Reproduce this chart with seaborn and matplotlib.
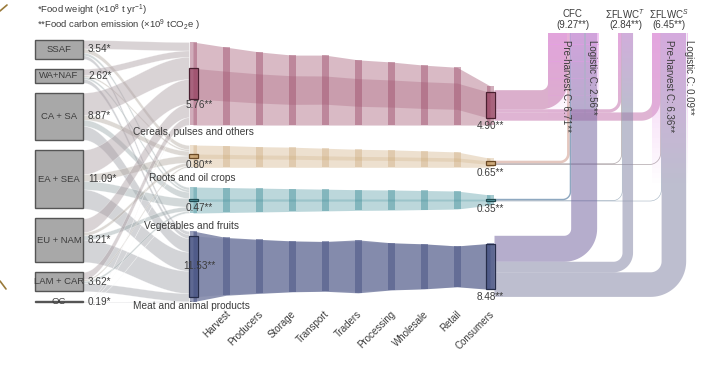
import numpy as np
import matplotlib
matplotlib.use("Agg")
import matplotlib.pyplot as plt
import matplotlib.colors as mcolors
from matplotlib.patches import Rectangle, Polygon
import seaborn as sns

# ---------------- data ----------------
regions = ["SSAF", "WA+NAF", "CA + SA", "EA + SEA", "EU + NAM", "LAM + CAR", "OC"]
region_weight = [3.54, 2.62, 8.87, 11.09, 8.21, 3.62, 0.19]

categories = ["Cereals, pulses and others", "Roots and oil crops",
              "Vegetables and fruits", "Meat and animal products"]

# food weight sent from each region to each category (cereal, roots, veg, meat) - estimated
flow_ssaf = [1.60, 0.80, 0.50, 0.64]
flow_wanaf = [1.20, 0.30, 0.40, 0.72]
flow_casa = [4.20, 0.90, 1.20, 2.57]
flow_easea = [4.60, 1.30, 1.60, 3.59]
flow_eunam = [2.60, 0.60, 0.80, 4.21]
flow_lamcar = [1.40, 0.30, 0.40, 1.52]
flow_oc = [0.07, 0.01, 0.02, 0.09]

stages = ["Harvest", "Producers", "Storage", "Transport", "Traders",
          "Processing", "Wholesale", "Retail", "Consumers"]

# food weight along the chain (category node + 9 stages) - estimated
weight_cereal = [15.67, 14.7, 13.8, 13.2, 13.2, 12.3, 11.9, 11.3, 10.9, 7.4]
weight_roots = [4.21, 4.1, 3.9, 3.8, 3.6, 3.4, 3.3, 3.1, 2.9, 1.7]
weight_veg = [4.92, 4.7, 4.5, 4.3, 4.1, 3.9, 3.8, 3.6, 3.4, 1.9]
weight_meat = [13.34, 10.9, 10.2, 9.6, 9.4, 10.0, 8.9, 8.5, 7.7, 8.7]

# food carbon along the chain - end points read from labels, middle estimated
carbon_cereal = [5.76, 5.62, 5.50, 5.40, 5.32, 5.22, 5.12, 5.04, 4.96, 4.90]
carbon_roots = [0.80, 0.78, 0.76, 0.75, 0.73, 0.71, 0.69, 0.68, 0.66, 0.65]
carbon_veg = [0.47, 0.46, 0.44, 0.43, 0.42, 0.40, 0.39, 0.38, 0.36, 0.35]
carbon_meat = [11.53, 10.5, 10.0, 9.5, 9.3, 9.4, 8.8, 8.4, 7.7, 8.48]

targets = ["CFC", "\u03a3FLWC$^{T}$", "\u03a3FLWC$^{S}$"]
target_carbon = [9.27, 2.84, 6.45]
# carbon of each category ending in CFC, FLWC-T, FLWC-S - estimated
to_target_cereal = [3.60, 0.60, 1.56]
to_target_roots = [0.50, 0.15, 0.15]
to_target_veg = [0.27, 0.10, 0.10]
to_target_meat = [4.90, 1.99, 4.64]
sub_labels = ["Pre-harvest C: 6.71**", "Logistic C: 2.56**",
              "Pre-harvest C: 6.36**", "Logistic C: 0.09**"]
sub_values = [6.71, 2.56, 6.36, 0.09]

# ---------------- style / layout ----------------
sns.set_theme(style="white")
plt.rcParams["font.family"] = ["Liberation Sans", "DejaVu Sans"]
plt.rcParams["mathtext.fontset"] = "custom"
plt.rcParams["mathtext.rm"] = "Liberation Sans"
plt.rcParams["mathtext.it"] = "Liberation Sans:italic"
plt.rcParams["mathtext.bf"] = "Liberation Sans:bold"
TXT = "#3c3c3c"
S = 5.3                       # px per unit
cat_colors = ["#9b4a68", "#c49a62", "#3f8e99", "#4a5585"]
band_alpha = [0.38, 0.30, 0.35, 0.62]
inner_alpha = [0.25, 0.20, 0.25, 0.15]
bar_alpha = [0.45, 0.30, 0.45, 0.55]
node_edge = ["#4a1f30", "#6b4a25", "#1f4a50", "#262d4a"]
pink = "#e89be9"

flows = [flow_ssaf, flow_wanaf, flow_casa, flow_easea, flow_eunam, flow_lamcar, flow_oc]
weights = [weight_cereal, weight_roots, weight_veg, weight_meat]
carbons = [carbon_cereal, carbon_roots, carbon_veg, carbon_meat]
to_targets = [to_target_cereal, to_target_roots, to_target_veg, to_target_meat]

box_x0, box_x1 = 35, 83
box_top0, box_gap = 40, 10
cat_top0 = [42, 145, 187, 231]
cat_align = [1.0, 1.0, 0.5, 0.5]
stage_x = np.linspace(193, 490, 10)
flow_x1 = 189
col_left = [548, 618, 652]
y_col_top = 33
cat_label_x = [133, 149, 144, 133]
cat_label_y = [132, 178, 226, 306]


def blend(c1, c2, f):
    a = np.array(mcolors.to_rgb(c1))
    b = np.array(mcolors.to_rgb(c2))
    return tuple(a * (1 - f) + b * f)


def turn_ribbon(ax, x0, yt, w, xl, ytop, r, color, alpha, z=2):
    th = np.linspace(0, np.pi / 2, 24)
    cx, cy = xl - r, yt - r
    inner = np.column_stack([cx + r * np.sin(th), cy + r * np.cos(th)])
    R = r + w
    outer = np.column_stack([cx + R * np.sin(th[::-1]), cy + R * np.cos(th[::-1])])
    pts = [(x0, yt)] + [tuple(p) for p in inner] + [(xl, ytop), (xl + w, ytop)] + \
          [tuple(p) for p in outer] + [(x0, yt + w)]
    ax.add_patch(Polygon(pts, closed=True, facecolor=color, alpha=alpha, lw=0, zorder=z))


fig = plt.figure(figsize=(7.01, 3.69), dpi=100)
ax = fig.add_axes([0, 0, 1, 1])
ax.set_xlim(0, 701)
ax.set_ylim(369, 0)
ax.axis("off")

# small cropped marks at the left edge of the original figure
ax.plot([0, 7], [11, 5], color="#9a7a3a", lw=1.2, solid_capstyle="round")
ax.plot([0, 6], [281, 289], color="#9a7a3a", lw=1.2, solid_capstyle="round")

# header
ax.text(37, 10.5, "*Food weight (\u00d710$^{8}$ t yr$^{-1}$)", fontsize=6.8, color=TXT, va="center")
ax.text(37, 25.5, "**Food carbon emission (\u00d710$^{9}$ tCO$_{2}$e )", fontsize=6.8, color=TXT, va="center")

# region boxes
box_tops = []
y = box_top0
for name, v in zip(regions, region_weight):
    h = v * S
    box_tops.append(y)
    ax.add_patch(Rectangle((box_x0, y), box_x1 - box_x0, max(h, 0.6), facecolor="#a8a8a8",
                           edgecolor="#555555", lw=1.0, zorder=5))
    yc = y + h / 2
    ax.text((box_x0 + box_x1) / 2, yc, name, fontsize=6.8, color=TXT, ha="center", va="center", zorder=6)
    ax.text(box_x1 + 5, yc, f"{v:.2f}*", fontsize=7.2, color=TXT, ha="left", va="center", zorder=6)
    y += h + box_gap

# category geometry along the chain
geo = []
for k in range(4):
    w = np.array(weights[k]) * S
    c = np.array(carbons[k]) * S
    fixed = cat_top0[k] + cat_align[k] * w[0]
    top = fixed - cat_align[k] * w
    bot = top + w
    mid = (top + bot) / 2
    geo.append((top, bot, mid, c))

# left flows region -> category
cat_cursor = [cat_top0[k] for k in range(4)]
for i, fl in enumerate(flows):
    ry = box_tops[i]
    for k in range(4):
        h = fl[k] * S
        y0a, y0b = ry, ry + h
        y1a, y1b = cat_cursor[k], cat_cursor[k] + h
        xs = np.linspace(box_x1, flow_x1, 60)
        t = (xs - box_x1) / (flow_x1 - box_x1)
        s = 3 * t ** 2 - 2 * t ** 3
        col = blend("#b0b0b0", cat_colors[k], 0.18)
        ax.fill_between(xs, y0a + (y1a - y0a) * s, y0b + (y1b - y0b) * s,
                        color=col, alpha=0.45, lw=0.35, edgecolor="white", zorder=1)
        ry += h
        cat_cursor[k] += h

# category bands through the stages
for k in range(4):
    top, bot, mid, c = geo[k]
    col = cat_colors[k]
    ax.fill_between(stage_x, top, bot, color=col, alpha=band_alpha[k], lw=0, zorder=2)
    ax.fill_between(stage_x, mid - c / 2, mid + c / 2, color=col, alpha=inner_alpha[k], lw=0, zorder=2)
    for j, x in enumerate(stage_x):
        ax.add_patch(Rectangle((x - 3.5, top[j]), 7, bot[j] - top[j], facecolor=col,
                               alpha=bar_alpha[k], lw=0, zorder=3))
    for j in (0, 9):
        ax.add_patch(Rectangle((stage_x[j] - 4.5, mid[j] - c[j] / 2), 9, c[j],
                               facecolor=mcolors.to_rgba(col, 0.75), edgecolor=node_edge[k],
                               lw=0.9, zorder=4))
    # value labels
    if k == 3:
        ax.text(stage_x[0] + 6, mid[0], f"{carbons[k][0]:.2f}**", fontsize=7.2, color=TXT,
                ha="center", va="center", zorder=7)
    else:
        ax.text(stage_x[0] + 6, mid[0] + c[0] / 2 + 6.5, f"{carbons[k][0]:.2f}**", fontsize=7.2,
                color=TXT, ha="center", va="center", zorder=7)
    ax.text(stage_x[9], mid[9] + c[9] / 2 + 8, f"{carbons[k][9]:.2f}**", fontsize=7.2,
            color=TXT, ha="center", va="center", zorder=7)
    ax.text(cat_label_x[k], cat_label_y[k], categories[k], fontsize=7.3, color=TXT,
            ha="left", va="center", zorder=7)

# stage labels
for j, name in enumerate(stages):
    ax.text(stage_x[j + 1] - 1, 309, name, fontsize=7, color=TXT, rotation=45,
            rotation_mode="anchor", ha="right", va="top")

# right flows: category -> target columns
col_cursor = list(col_left)
for k in range(4):
    top, bot, mid, c = geo[k]
    tot = sum(to_targets[k]) * S
    yy = mid[9] - tot / 2
    for m in range(3):
        w = to_targets[k][m] * S
        if m == 0:
            col = blend(cat_colors[k], pink, 0.45 if k == 0 else 0.3)
        else:
            col = blend(cat_colors[k], pink, 0.55) if k == 0 else blend("#9c9cb4", cat_colors[k], 0.25)
        turn_ribbon(ax, stage_x[9] + 4.5, yy, w, col_cursor[m], y_col_top, 7 + 2 * m,
                    col, 0.55 if w > 2 else 0.8)
        col_cursor[m] += w
        yy += w

# pink column caps (fading downward)
sub_left = [col_left[0], col_left[0] + sub_values[0] * S + 2, col_left[2],
            col_left[2] + sub_values[2] * S + 1]
sub_w = [sub_values[0] * S, sub_values[1] * S, sub_values[2] * S, max(sub_values[3] * S, 0.8)]
cap_len = [85, 85, 150, 150]
for xl, ww, L in zip(sub_left, sub_w, cap_len):
    n = 30
    for q in range(n):
        ax.add_patch(Rectangle((xl, y_col_top + q * L / n), ww, L / n + 0.3, facecolor=pink,
                               alpha=0.55 * (1 - q / n), lw=0, zorder=3))
for q in range(30):
    ax.add_patch(Rectangle((col_left[1], y_col_top + q * 2.5), target_carbon[1] * S, 2.8,
                           facecolor=pink, alpha=0.45 * (1 - q / 30), lw=0, zorder=3))

# column labels
for m in range(3):
    xc = col_left[m] + target_carbon[m] * S / 2
    ax.text(xc, 14, targets[m], fontsize=7, color=TXT, ha="center", va="center")
    ax.text(xc, 25.5, f"({target_carbon[m]:.2f}**)", fontsize=7, color=TXT, ha="center", va="center")
for xl, ww, lab in zip(sub_left, sub_w, sub_labels):
    ax.text(xl + ww / 2 + (2 if ww < 2 else 0), 40, lab, fontsize=7, color=TXT, rotation=-90,
            ha="center", va="top", zorder=8)

fig.savefig("out.png", dpi=100)
